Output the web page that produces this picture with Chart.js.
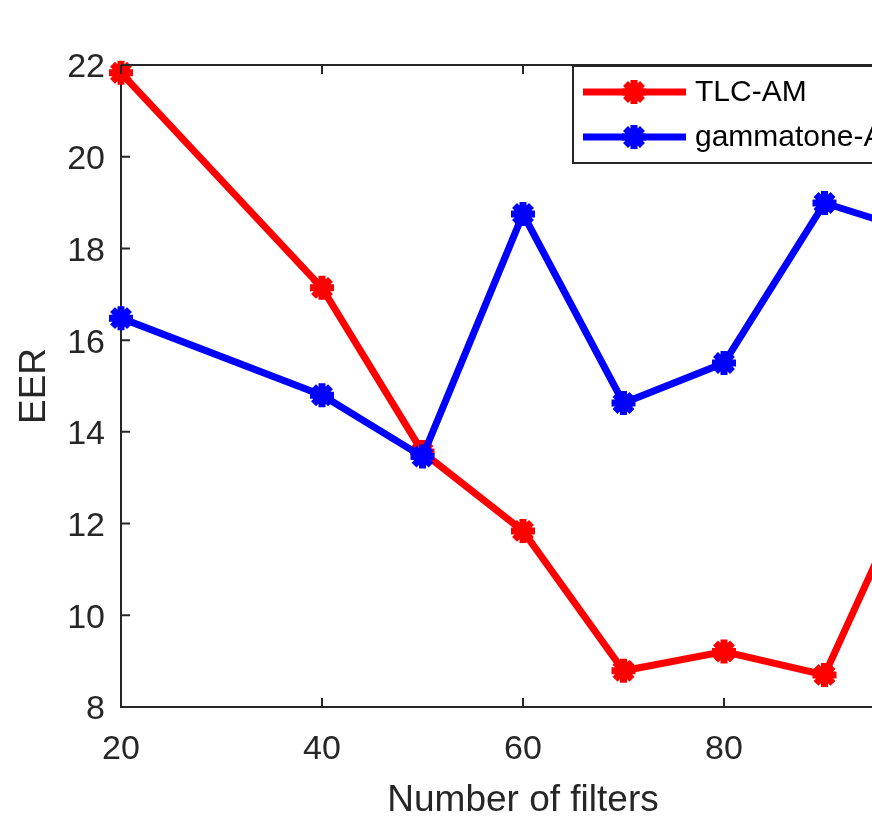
<!DOCTYPE html>
<html>
<head>
<meta charset="utf-8">
<script src="https://cdn.jsdelivr.net/npm/chart.js@4"></script>
<style>
  html, body { margin: 0; padding: 0; background: #fff; overflow: hidden; }
  #wrap { width: 1000px; height: 830px; }
</style>
</head>
<body>
<div id="wrap"><canvas id="myChart" width="1000" height="830"></canvas></div>
<script>
// data
var filters = [20, 40, 50, 60, 70, 80, 90, 100];
var tlcAM = [21.83, 17.14, 13.56, 11.84, 8.79, 9.21, 8.70, 13.5];
var gammatoneAM = [16.48, 14.8, 13.46, 18.75, 14.63, 15.5, 18.99, 18.3];
var xTicks = [20, 40, 60, 80, 100];
var yTicks = [8, 10, 12, 14, 16, 18, 20, 22];

var axisColor = '#262626';

function toPoints(xs, ys) {
    return xs.map(function (x, i) { return { x: x, y: ys[i] }; });
}

// matlab style box + inward ticks + legend
var boxPlugin = {
    id: 'boxPlugin',
    afterDraw: function (chart) {
        var ctx = chart.ctx;
        var a = chart.chartArea;
        var xs = chart.scales.x, ys = chart.scales.y;
        ctx.save();
        ctx.strokeStyle = axisColor;
        ctx.lineWidth = 2;
        ctx.beginPath();
        ctx.moveTo(a.left, a.top);
        ctx.lineTo(a.right, a.top);
        ctx.lineTo(a.right, a.bottom);
        ctx.stroke();
        var tl = 9;
        ctx.beginPath();
        xTicks.forEach(function (v) {
            var p = xs.getPixelForValue(v);
            ctx.moveTo(p, a.bottom); ctx.lineTo(p, a.bottom - tl);
            ctx.moveTo(p, a.top); ctx.lineTo(p, a.top + tl);
        });
        yTicks.forEach(function (v) {
            var p = ys.getPixelForValue(v);
            ctx.moveTo(a.left, p); ctx.lineTo(a.left + tl, p);
            ctx.moveTo(a.right, p); ctx.lineTo(a.right - tl, p);
        });
        ctx.stroke();

        // legend
        var lx = 573, ly = 66, lw = 335, lh = 97;
        ctx.fillStyle = '#fff';
        ctx.fillRect(lx, ly, lw, lh);
        ctx.strokeStyle = axisColor;
        ctx.lineWidth = 2;
        ctx.strokeRect(lx, ly, lw, lh);
        ctx.font = '30px "Liberation Sans", Arial, sans-serif';
        ctx.textBaseline = 'middle';
        ctx.textAlign = 'left';
        chart.data.datasets.forEach(function (ds, i) {
            var y = [92, 137][i];
            ctx.strokeStyle = ds.borderColor;
            ctx.fillStyle = ds.borderColor;
            ctx.lineWidth = ds.borderWidth;
            ctx.beginPath();
            ctx.moveTo(583, y); ctx.lineTo(686, y);
            ctx.stroke();
            ctx.lineWidth = ds.pointBorderWidth;
            Chart.helpers.drawPoint(ctx, { pointStyle: 'star', radius: ds.pointRadius, rotation: 0, borderWidth: ds.pointBorderWidth }, 634, y);
            ctx.fillStyle = '#000';
            ctx.fillText(ds.label, 695, y + 1);
        });
        ctx.restore();
    }
};

var ctx = document.getElementById('myChart').getContext('2d');

var chart = new Chart(ctx, {
    type: 'line',
    data: {
        datasets: [{
            label: 'TLC-AM',
            data: toPoints(filters, tlcAM),
            borderColor: '#ff0000',
            backgroundColor: '#ff0000',
            borderWidth: 7,
            pointStyle: 'star',
            pointRadius: 12,
            pointBorderWidth: 7,
            pointBackgroundColor: '#ff0000',
            tension: 0,
            clip: false,
            order: 1
        }, {
            label: 'gammatone-AM',
            data: toPoints(filters, gammatoneAM),
            borderColor: '#0000ff',
            backgroundColor: '#0000ff',
            borderWidth: 7,
            pointStyle: 'star',
            pointRadius: 12,
            pointBorderWidth: 7,
            pointBackgroundColor: '#0000ff',
            tension: 0,
            clip: false,
            order: 0
        }]
    },
    options: {
        responsive: false,
        animation: false,
        devicePixelRatio: 1,
        layout: { padding: { left: 0, top: 65, right: 75, bottom: 0 } },
        plugins: {
            legend: { display: false },
            tooltip: { enabled: false }
        },
        scales: {
            x: {
                type: 'linear',
                min: 20,
                max: 100,
                afterFit: function (scale) { scale.height = 123; },
                afterBuildTicks: function (scale) { scale.ticks = xTicks.map(function (v) { return { value: v }; }); },
                grid: { display: false, drawTicks: false },
                border: { display: true, color: axisColor, width: 2 },
                ticks: { color: axisColor, padding: 22, font: { family: '"Liberation Sans", Arial, sans-serif', size: 34 } },
                title: {
                    display: true,
                    text: 'Number of filters',
                    color: axisColor,
                    padding: { top: 0, bottom: 7 },
                    font: { family: '"Liberation Sans", Arial, sans-serif', size: 37 }
                }
            },
            y: {
                min: 8,
                max: 22,
                afterFit: function (scale) { scale.width = 121; },
                afterBuildTicks: function (scale) { scale.ticks = yTicks.map(function (v) { return { value: v }; }); },
                grid: { display: false, drawTicks: false },
                border: { display: true, color: axisColor, width: 2 },
                ticks: { color: axisColor, padding: 16, labelOffset: 3, font: { family: '"Liberation Sans", Arial, sans-serif', size: 34 } },
                title: {
                    display: true,
                    text: 'EER',
                    color: axisColor,
                    padding: { top: 13, bottom: 0 },
                    font: { family: '"Liberation Sans", Arial, sans-serif', size: 37 }
                }
            }
        }
    },
    plugins: [boxPlugin]
});
</script>
</body>
</html>
